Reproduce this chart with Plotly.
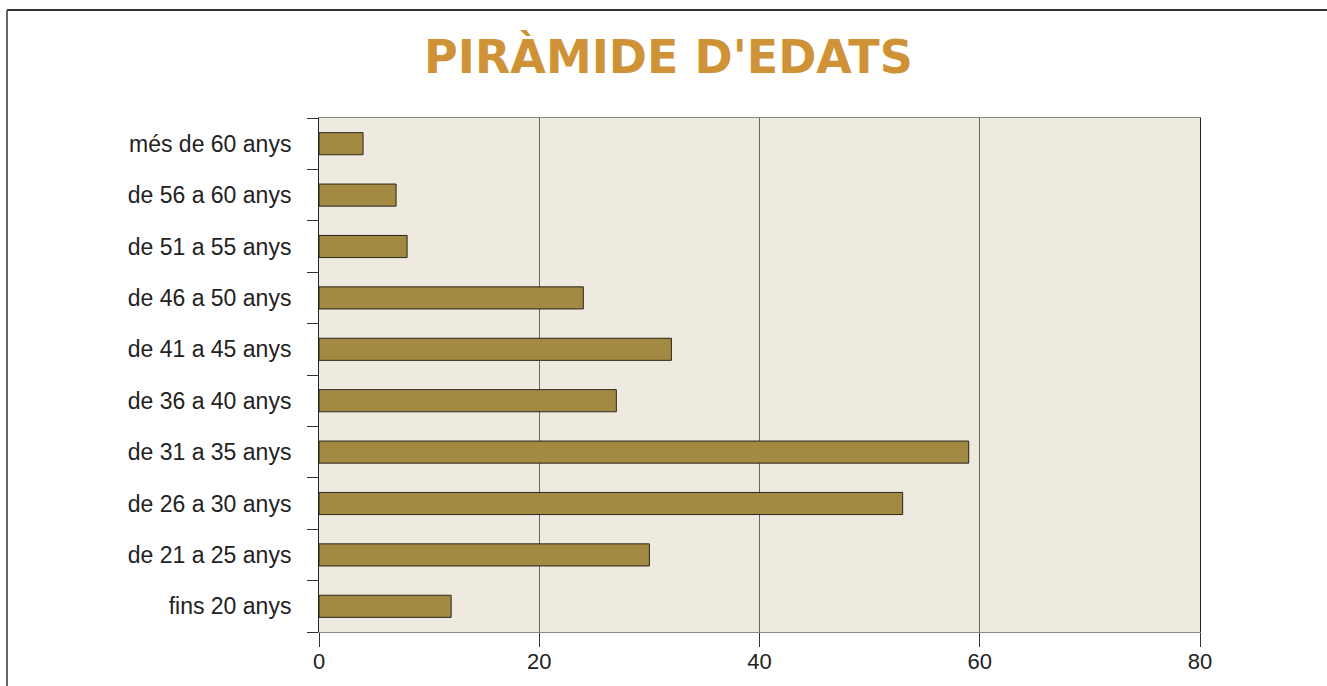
import plotly.graph_objects as go

categories = ["fins 20 anys", "de 21 a 25 anys", "de 26 a 30 anys", "de 31 a 35 anys",
              "de 36 a 40 anys", "de 41 a 45 anys", "de 46 a 50 anys", "de 51 a 55 anys",
              "de 56 a 60 anys", "més de 60 anys"]
values = [12, 30, 53, 59, 27, 32, 24, 8, 7, 4]
x_ticks = [0, 20, 40, 60, 80]
title_text = "PIRÀMIDE D'EDATS"

W, H = 1327, 686
ML, MR, MT, MB = 319, 127, 118, 54
pw, ph = W - ML - MR, H - MT - MB

def px_x(p):
    return (p - ML) / pw

def px_y(p):
    return (H - MB - p) / ph

fig = go.Figure(go.Bar(
    x=values, y=categories, orientation="h",
    marker=dict(color="#A38A42", line=dict(color="#2a251c", width=1)),
    hoverinfo="x+y",
))

fig.update_layout(
    width=W, height=H, autosize=False,
    margin=dict(l=ML, r=MR, t=MT, b=MB, autoexpand=False),
    paper_bgcolor="white",
    plot_bgcolor="#EEEAE0",
    bargap=0.57,
    showlegend=False,
    font=dict(family="Liberation Sans, Arial, sans-serif", color="#222"),
    title=dict(text="<b>" + title_text + "</b>", x=0.5 + 5 / W, xanchor="center",
               y=1 - 57 / H, yanchor="middle", yref="container", automargin=False,
               font=dict(size=46, color="#D09236", family="DejaVu Sans, sans-serif")),
    xaxis=dict(range=[0, 80], tickvals=x_ticks, showgrid=True, gridcolor="#666", gridwidth=1,
               zeroline=False, showline=True, linecolor="#888", linewidth=1, mirror=True,
               ticks="outside", ticklen=14, tickcolor="#333", tickwidth=1, automargin=False,
               tickfont=dict(size=22, color="#222"), ticklabelstandoff=-4, fixedrange=True),
    yaxis=dict(categoryorder="array", categoryarray=categories, tickson="boundaries",
               ticks="outside", ticklen=11, tickcolor="#333", tickwidth=1, automargin=False,
               showline=True, linecolor="#222", linewidth=1, mirror=True, showgrid=False,
               tickfont=dict(size=23, color="#222"), ticklabelstandoff=22, fixedrange=True),
    shapes=[
        dict(type="line", xref="paper", yref="paper", x0=px_x(7), x1=px_x(W + 5),
             y0=px_y(10), y1=px_y(10), line=dict(color="#333", width=2)),
        dict(type="line", xref="paper", yref="paper", x0=px_x(7), x1=px_x(7),
             y0=px_y(10), y1=px_y(H + 5), line=dict(color="#666", width=2)),
    ],
)

fig.write_html("out.html", config={"displayModeBar": False},
               post_script="document.body.style.margin='0';document.body.style.overflow='hidden';")
